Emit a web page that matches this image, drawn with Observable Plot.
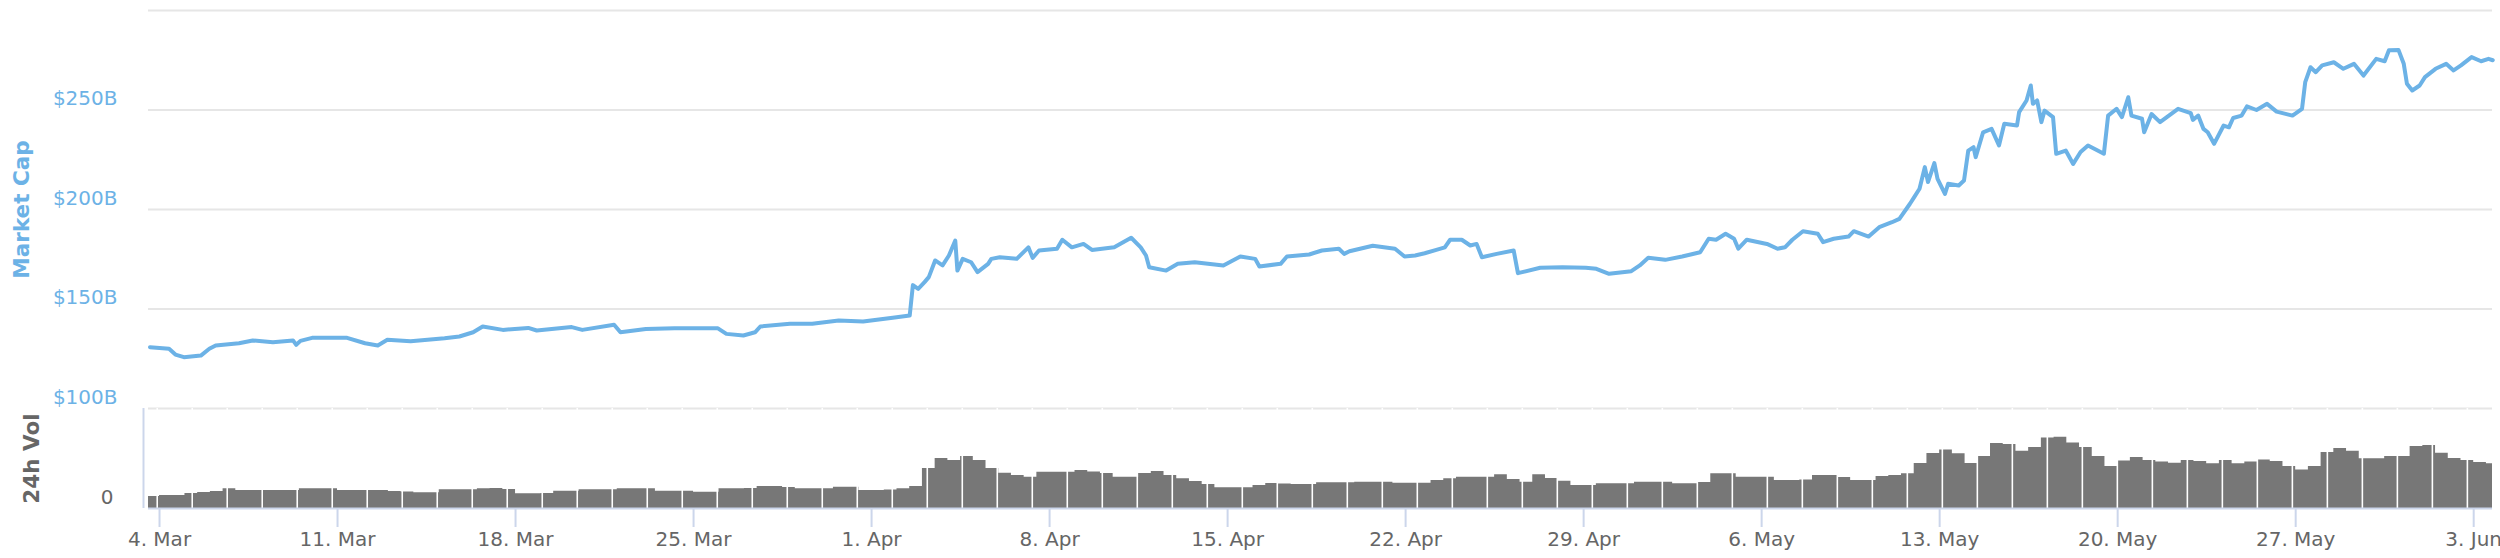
<!DOCTYPE html>
<html>
<head>
<meta charset="utf-8">
<script src="https://cdn.jsdelivr.net/npm/d3@7"></script>
<script src="https://cdn.jsdelivr.net/npm/@observablehq/plot@0.6"></script>
<style>
  html, body { margin: 0; padding: 0; background: #fff; }
  #chart { position: relative; width: 2500px; height: 558px; }
  #chart > svg { position: absolute; left: 0; top: 0; }
</style>
</head>
<body>
<div id="chart"></div>
<script>
// ---- Market cap series (2019, UTC "MM-DD HH"), values in $B ----
const capDates = [
"03-03 15","03-04 09","03-04 15","03-04 23","03-05 15","03-05 23","03-06 05","03-07 03","03-07 16","03-08 11",
"03-09 06","03-09 09","03-09 13","03-10 00","03-11 09","03-12 02","03-12 14","03-12 23","03-13 21","03-15 05",
"03-15 19","03-16 08","03-16 17","03-17 12","03-18 12","03-18 20","03-20 05","03-20 15","03-21 21","03-22 03",
"03-23 03","03-24 06","03-25 23","03-26 07","03-26 23","03-27 10","03-27 15","03-28 19","03-29 16","03-30 17",
"03-31 16","04-01 20","04-02 12","04-02 15","04-02 20","04-03 02","04-03 06","04-03 12","04-03 19","04-04 01",
"04-04 07","04-04 09","04-04 14","04-04 22","04-05 04","04-05 14","04-05 17","04-06 01","04-06 17","04-07 04",
"04-07 08","04-07 14","04-08 07","04-08 12","04-08 21","04-09 08","04-09 16","04-10 13","04-11 05","04-11 14",
"04-11 19","04-11 22","04-12 14","04-13 01","04-13 17","04-14 20","04-15 12","04-16 02","04-16 06","04-17 02",
"04-17 08","04-18 05","04-18 17","04-19 09","04-19 14","04-19 19","04-20 17","04-21 14","04-21 23","04-22 09",
"04-22 18","04-23 05","04-23 13","04-23 18","04-24 05","04-24 13","04-24 19","04-25 00","04-25 14","04-26 06",
"04-26 10","04-27 07","04-28 04","04-29 02","04-29 12","04-30 00","04-30 21","05-01 05","05-01 13","05-02 05",
"05-02 21","05-03 14","05-03 22","05-04 05","05-04 14","05-04 22","05-05 02","05-05 10","05-06 05","05-06 15",
"05-06 22","05-07 05","05-07 15","05-08 05","05-08 10","05-08 20","05-09 10","05-09 15","05-10 05","05-10 15",
"05-11 03","05-11 10","05-11 20","05-12 00","05-12 05","05-12 10","05-12 13","05-12 19","05-12 22","05-13 05",
"05-13 08","05-13 18","05-13 23","05-14 03","05-14 08","05-14 10","05-14 17","05-15 01","05-15 08","05-15 13",
"05-16 01","05-16 03","05-16 10","05-16 14","05-16 16","05-16 20","05-17 00","05-17 03","05-17 11","05-17 14",
"05-17 23","05-18 06","05-18 13","05-18 20","05-19 11","05-19 15","05-19 23","05-20 04","05-20 10","05-20 13",
"05-20 23","05-21 01","05-21 08","05-21 16","05-22 09","05-22 21","05-22 23","05-23 04","05-23 09","05-23 13",
"05-23 19","05-24 04","05-24 09","05-24 13","05-24 21","05-25 02","05-25 11","05-25 21","05-26 06","05-26 21",
"05-27 06","05-27 09","05-27 14","05-27 19","05-28 01","05-28 12","05-28 21","05-29 07","05-29 16","05-30 04",
"05-30 12","05-30 16","05-31 01","05-31 06","05-31 09","05-31 14","05-31 21","06-01 02","06-01 12","06-01 22",
"06-02 05","06-02 12","06-02 22","06-03 07","06-03 14","06-03 18"
];
const capValues = [
130.8,130.0,127.1,125.8,126.6,130.0,131.7,132.8,134.2,133.3,
134.2,132.0,134.0,135.5,135.5,132.8,131.7,134.5,133.8,135.3,
136.2,138.3,141.2,139.5,140.5,139.2,140.9,139.5,142.1,138.3,
140.0,140.3,140.3,137.5,136.7,138.3,141.2,142.6,142.6,144.2,
143.7,145.6,146.7,162.0,160.1,163.5,166.0,174.4,171.9,176.9,
184.4,169.3,175.2,173.5,168.5,172.7,175.2,176.0,175.2,181.0,
175.7,179.4,180.3,184.8,181.0,182.7,179.7,181.0,185.8,181.0,
176.9,171.0,169.3,172.7,173.5,171.9,176.4,175.2,171.4,172.7,
176.4,177.4,179.4,180.3,177.7,179.0,181.8,180.3,176.4,176.9,
178.0,179.7,181.0,184.8,184.8,181.9,182.7,176.0,177.7,179.4,
168.0,170.7,171.0,170.7,170.2,167.7,169.0,171.9,175.7,174.7,
176.4,178.5,185.3,184.8,187.8,185.3,180.3,184.8,182.7,180.3,
181.0,184.8,189.1,187.8,183.6,185.3,186.4,189.1,186.4,191.1,
193.6,195.3,202.9,206.2,210.4,221.3,213.8,223.3,215.4,207.8,
212.9,212.1,214.6,229.6,231.3,226.3,238.8,240.5,232.2,243.1,
242.2,248.9,254.8,262.3,253.1,254.8,243.9,249.7,246.4,228.0,
229.6,222.9,228.9,232.2,228.0,247.2,250.6,246.4,256.4,247.2,
245.6,238.8,248.0,243.9,250.6,248.4,245.0,247.2,240.5,238.8,
233.0,242.2,241.3,246.0,247.2,251.8,250.0,253.1,249.2,247.2,
250.6,264.0,271.5,269.0,272.4,274.0,270.7,273.2,267.3,275.7,
274.5,280.0,280.2,273.2,263.2,259.8,262.3,266.5,270.7,273.2,
269.9,272.4,276.6,274.5,275.7,275.0
];

// ---- 24h volume, one reading every 12 h starting 2019-03-03 12:00 UTC ----
const volStart = "2019-03-03T12:00Z";
const volStepHours = 12;
const volValues = [
12,13,13,15,16,17,19.7,18,18,18,
18,18,19.7,19.7,19.7,18,18,18,18,17,
16.5,15.7,15.7,18.7,18.7,18.7,19.7,20,19,14.7,
14.7,15,17.3,17.3,18.7,18.7,18.7,19.7,19.7,19.7,
17.3,17.3,17.3,16.3,16.3,19.7,19.7,20,22,22,
21,19.7,19.7,19.7,21.3,21.3,18,18,18.5,19.7,
22,40,50,48,52,48,40,35.3,33,31.3,
36.3,36.3,36.3,38,36.5,35,31.3,31.3,35,37,
33,29.7,27,24,20.7,20.7,20.7,23,25,24.5,
24,24,25.7,25.7,25.7,26.3,26.3,26.3,25.3,25.3,
25.3,28,29.7,31.3,31.3,31.3,33.7,29,26.3,33.7,
30,27.3,23,23,24.7,24.7,24.7,26.3,26.3,26.3,
24.7,24.7,26,34.7,34.7,31.3,31.3,31.3,28,28,
28.5,33,33,31,28,28,32,33,34.7,45,
55,58.5,54.7,45,52,65,64,57.3,61,70.5,
71.3,65.5,61,52,42,47.5,51,48,46.5,45.3,
48,47,44.7,48,44.7,46.5,48.5,47,42,38.5,
42,56,60,57.3,49.7,49.7,52,52,62,63,
55.3,50,48,46,44.7,42
];

// axis tick values / labels
const capTicks = [100, 150, 200, 250, 300];
const capLabelTicks = [100, 150, 200, 250];
const volTicks = [0];
const xStart = "2019-03-03T13:36Z";
const xEnd = "2019-06-03T17:45Z";

// ---------------------------------------------------------------
const parse = d3.utcParse("%Y-%m-%d %H");
const cap = capDates.map((d, i) => ({date: parse("2019-" + d), cap: capValues[i]}));
const v0 = new Date(volStart);
const vol = volValues.map((v, i) => ({date: d3.utcHour.offset(v0, volStepHours * i), vol: v}));
const xDomain = [new Date(xStart), new Date(xEnd)];

// column-rendering seams of the original (one every ~33 h)
const seamStart = new Date("2019-03-03T21:50Z");
const seams = d3.range(0, 68).map(i => d3.utcMinute.offset(seamStart, 1982 * i));

const blue = "#6cb2e6";
const font = "DejaVu Sans";
const common = {
  width: 2500, height: 558, marginLeft: 148, marginRight: 8,
  style: {fontFamily: font, background: "transparent", overflow: "visible"}
};

const topPlot = Plot.plot({
  ...common,
  marginTop: 10, marginBottom: 150,
  x: {domain: xDomain, axis: null},
  y: {domain: [100, 300], axis: null},
  marks: [
    Plot.gridY(capTicks, {stroke: "#e6e6e6", strokeOpacity: 1, strokeWidth: 2}),
    Plot.axisY(capLabelTicks, {
      label: null, tickSize: 0, tickPadding: 31, dy: -11, fontSize: 20,
      tickFormat: d => `$${d}B`, fill: blue
    }),
    Plot.lineY(cap, {x: "date", y: "cap", stroke: blue, strokeWidth: 4, strokeLinejoin: "round"}),
    Plot.text(["Market Cap"], {
      frameAnchor: "left", textAnchor: "middle", dx: -126, rotate: -90, fontSize: 21.5,
      fontWeight: "bold", fill: blue
    })
  ]
});

const botPlot = Plot.plot({
  ...common,
  marginTop: 408, marginBottom: 50,
  x: {domain: xDomain, axis: null},
  y: {domain: [0, 100], axis: null},
  marks: [
    Plot.areaY(vol, {x: "date", y: "vol", curve: "step-after", fill: "#777777", clip: true}),
    Plot.ruleX(seams, {stroke: "#ffffff", strokeWidth: 1.6, y1: 0, y2: 100, clip: true}),
    Plot.ruleY(volTicks, {stroke: "#ccd6eb", strokeWidth: 2}),
    Plot.ruleX([xDomain[0]], {dx: -5, y1: 0, y2: 100, stroke: "#ccd6eb", strokeWidth: 2}),
    Plot.axisY(volTicks, {label: null, tickSize: 0, tickPadding: 35, dy: -11, fontSize: 20, fill: "#666666"}),
    Plot.axisX(d3.utcMonday.range(xDomain[0], xDomain[1]), {
      label: null, anchor: "bottom", tickSize: 19, tickPadding: 4, fontSize: 20,
      tickFormat: d3.utcFormat("%-d. %b"), stroke: "#ccd6eb", strokeWidth: 2, fill: "#666666"
    }),
    Plot.text(["24h Vol"], {
      frameAnchor: "left", textAnchor: "middle", dx: -116, rotate: -90, fontSize: 21.5,
      fontWeight: "bold", fill: "#666666"
    })
  ]
});

const el = document.getElementById("chart");
el.appendChild(topPlot);
el.appendChild(botPlot);
</script>
</body>
</html>
